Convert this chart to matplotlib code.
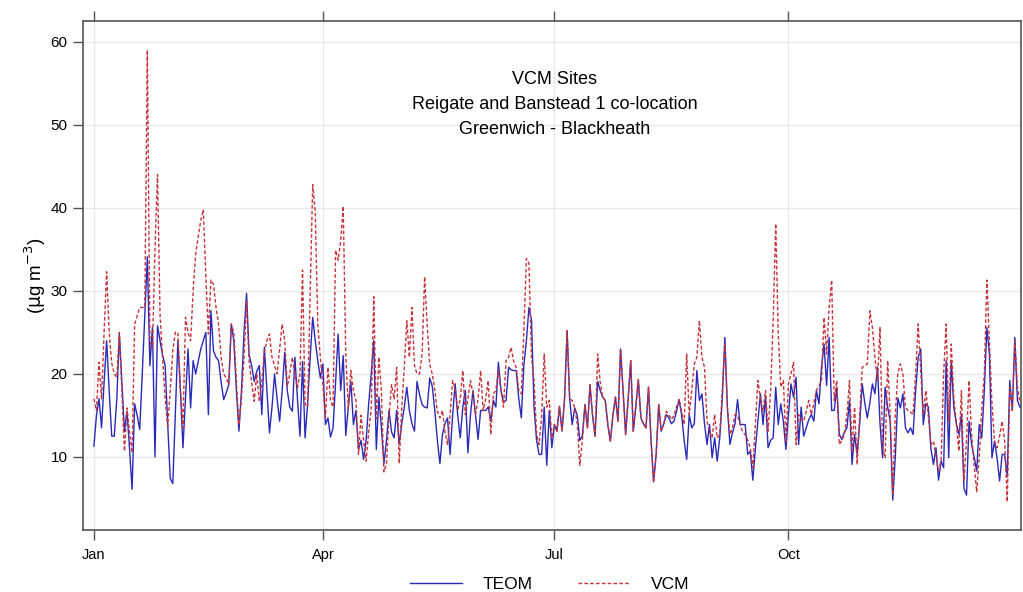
import numpy as np
import matplotlib
matplotlib.use("Agg")
import matplotlib.pyplot as plt

# ---- data (daily means, one year) ----
teom = [11.3, 15, 17, 13.5, 19, 24, 18, 12.5, 12.5, 17, 24.8, 19, 13.1, 15.5, 11, 6.1, 16.4, 15, 13.3, 20,
        27, 34.1, 21, 25.6, 10, 25.8, 24, 22.2, 21, 14, 7.4, 6.8, 15.1, 24, 18, 11.1, 17, 23, 15.9, 21.6,
        20, 21.5, 23, 24, 25, 15.1, 27.6, 22.8, 22, 21.6, 19, 16.9, 17.7, 18.7, 26, 24, 18, 13.1, 18, 25,
        29.7, 22.3, 21, 19.1, 20.3, 21, 15.1, 23.2, 18, 12.9, 16, 20, 17, 14.3, 18, 22.6, 18, 16, 15.5, 22,
        17, 12.5, 21.5, 12.3, 16.4, 22, 26.8, 24, 21.6, 19.5, 21.2, 13.9, 14.7, 12.4, 13.5, 19, 24.8, 18, 22.2, 12.6,
        16, 19.1, 13.9, 15.6, 10.9, 12, 9.7, 12, 16.4, 20, 24, 10.9, 17.2, 13.5, 9.2, 12, 15.6, 13, 12.3, 15.6,
        11.5, 14, 16, 18.4, 15.6, 14, 13.1, 19.1, 17.5, 16.3, 16, 15.9, 19.5, 18.5, 15.6, 12, 9.2, 12.7, 14, 14.7,
        10.3, 15, 18.8, 15, 12.3, 16, 18, 10.5, 15, 18, 15, 12.1, 15.6, 15.6, 15.6, 16, 14.3, 16.8, 16, 21.4,
        18, 16.6, 16.8, 20.8, 20.5, 20.4, 20.4, 17, 14.7, 21, 24, 28, 26.5, 16, 12, 10.3, 10.3, 16, 9, 15.6,
        11.1, 13.9, 13.1, 16.1, 13.1, 17, 25.2, 17, 13.9, 15.9, 15, 12, 12.5, 16.3, 13.5, 18.7, 15, 12.5, 19.1, 18,
        17.2, 16.8, 13.9, 11.9, 15, 17.2, 14.3, 23, 18, 12.7, 17, 21.6, 13.1, 16, 19.3, 14.7, 14, 13.5, 18.4, 12,
        7.0, 10.3, 16.3, 13.1, 14, 15.1, 14.7, 14, 14.3, 15.5, 16.9, 15.1, 12, 9.7, 15.1, 13.5, 14, 20.4, 16.8, 17.6,
        14, 11.5, 13.9, 9.9, 12.3, 9.5, 12.3, 17, 24.4, 16, 11.5, 12.9, 14, 16.9, 13.9, 13.9, 13.9, 10.3, 10.7, 7.2,
        11, 14.3, 17.6, 13.9, 17.2, 11.1, 12, 12.3, 18.4, 13.9, 16.4, 14.3, 10.9, 15, 18.8, 17.2, 19.6, 11.5, 16, 12.5,
        13.5, 14.5, 15.1, 14.3, 18, 16.4, 20.8, 23.6, 18.6, 24.4, 15.6, 15.6, 18.4, 12.7, 12.1, 13, 13.5, 16.8, 9.1, 12.7,
        10.3, 14, 18.8, 16.5, 14.7, 16.5, 18.8, 17.6, 20.8, 14, 9.9, 18.4, 16, 14.3, 4.8, 10, 17.1, 15.9, 17.6, 13.5,
        12.9, 13.5, 12.7, 18, 22, 23, 13.9, 16.4, 16, 11, 9.1, 11.1, 7.2, 9.5, 8.7, 21.6, 9.9, 21.6, 16, 14,
        12.7, 15.1, 6.2, 5.4, 14.3, 11.5, 10, 8.3, 13.9, 12.3, 18, 25.6, 22.4, 9.9, 11.9, 9.9, 7.1, 10.3, 10.3, 7.6,
        19.2, 15.6, 24.4, 16.8, 16]

vcm = [17, 15.6, 21.4, 17, 25, 32.3, 25, 21.3, 20, 19.6, 25, 18, 10.7, 15.9, 13, 10.5, 26, 27, 28, 28,
       28, 59, 24, 23, 35, 44, 27, 22, 17, 13.7, 18, 22.8, 25, 25, 18, 13.5, 26.8, 25, 24, 30,
       34.5, 36.5, 38.5, 39.8, 31.7, 24.8, 31.3, 30.8, 28, 26, 22, 20, 19.5, 18.7, 26, 25, 19, 13.9, 17, 22,
       28.8, 21.5, 19, 16.7, 20, 16.7, 19, 22.6, 24, 24.8, 22, 21, 20, 23, 26, 24, 18.5, 20, 22, 20,
       18.3, 20, 32.5, 16.4, 16, 29.7, 42.8, 39.5, 26, 22, 18.7, 14.7, 20.8, 16.8, 16, 34.9, 33.7, 36, 40.2, 22.2,
       15.8, 20.4, 18, 16.8, 10.3, 15, 12, 9.5, 13, 15.8, 29.3, 14.6, 22, 18, 8.2, 9.2, 15, 18.7, 17, 20.8,
       9.2, 16, 20.8, 26.4, 22, 28, 21, 20, 20, 22.4, 31.7, 25.9, 21.1, 20, 18, 15.5, 14.7, 15.6, 13, 11.5,
       15, 19.2, 18.2, 15.6, 17, 20.4, 15.1, 17, 19.2, 17.6, 15.1, 17, 20.4, 15.6, 17, 19.2, 12.7, 17.6, 18, 20.4,
       18, 16, 21.6, 22, 23.2, 21.5, 20.8, 18, 17.6, 25.2, 33.9, 33.3, 22, 19.2, 12.7, 11.5, 15, 22.4, 16, 16.8,
       12.3, 13.9, 13.1, 16.1, 13.1, 17, 25.2, 17, 16.8, 15.9, 14, 9, 12, 16.3, 13.5, 18.7, 15, 12.5, 22.4, 19,
       17.2, 16.8, 13.9, 11.9, 15, 17.2, 14.3, 23, 18, 12.7, 17, 21.6, 13.1, 16, 19.3, 14.7, 14, 13.5, 18.4, 12,
       7.0, 10.3, 16.3, 13.1, 14, 15.5, 15.1, 14.5, 15, 16, 16.9, 15.5, 13.9, 22.4, 15.1, 18, 21.2, 22, 26.4, 22,
       20.8, 14.3, 13, 12.3, 15.1, 12.3, 12.7, 18, 23.6, 16, 12.7, 13.5, 15.1, 15, 13.9, 13, 12.7, 12, 11.1, 8.7,
       14, 19.2, 17, 15.5, 18, 13.1, 18, 26.4, 38.1, 24.8, 18.4, 19.2, 11.9, 18.8, 20, 21.4, 11.5, 15.1, 14.5, 14.3,
       15.5, 16.8, 15.1, 16.5, 18, 18.5, 19.2, 26.8, 22.4, 28, 31.3, 16.8, 19.2, 11.5, 12, 12.7, 15.1, 19.2, 10.7, 16,
       9.1, 15, 20.8, 21, 21.2, 27.6, 25.6, 22, 19.2, 25.6, 11.1, 9.9, 21.6, 15.1, 5.4, 15.1, 20, 21.2, 20, 15.9,
       15.6, 15.4, 15.1, 20, 26, 20.4, 15.1, 18, 15, 11.5, 11.9, 10, 8.3, 9.5, 20, 26, 14.3, 23.6, 17.2, 14,
       10.7, 18, 7.1, 12, 19.2, 12.7, 9, 5.8, 10, 15.9, 20, 31.3, 24, 16.4, 11.9, 11.1, 12.5, 14.3, 11.9, 4.6,
       18.4, 15.6, 24, 18.4, 16.5]

start_date = "2009-01-01"
month_ticks = ["2009-01-01", "2009-04-01", "2009-07-01", "2009-10-01"]
month_labels = ["Jan", "Apr", "Jul", "Oct"]
y_ticks = [10, 20, 30, 40, 50, 60]
title_lines = ["VCM Sites", "Reigate and Banstead 1 co-location", "Greenwich - Blackheath"]
series_names = ["TEOM", "VCM"]

dates = np.datetime64(start_date) + np.arange(len(teom)).astype("timedelta64[D]")

plt.rcParams["font.family"] = ["Liberation Sans", "DejaVu Sans"]

fig = plt.figure(figsize=(10.23, 5.92), dpi=100)
ax = fig.add_axes([83 / 1023, 1 - 530 / 592, (1021 - 83) / 1023, (530 - 21) / 592])

ax.plot(dates, teom, color="#2a2ab8", lw=1.0, label=series_names[0], zorder=3)
ax.plot(dates, vcm, color="#c8323a", lw=1.0, ls=(0, (2.6, 1.6)), label=series_names[1], zorder=4)

t0 = np.datetime64(start_date)
ax.set_xlim(t0 - np.timedelta64(103, "h"), t0 + np.timedelta64(364 * 24 + 10, "h"))
ax.set_ylim(1.2, 62.5)

mt = [np.datetime64(m) for m in month_ticks]
ax.set_xticks(mt)
ax.set_xticklabels(month_labels)
ax.set_yticks(y_ticks)
ax.tick_params(axis="x", which="both", top=True, bottom=True, direction="out",
               length=7, width=1, color="#555555", labelsize=10.5, pad=6)
ax.tick_params(axis="y", direction="out", length=7, width=1, color="#555555",
               labelsize=11, pad=4, right=False)

ax.grid(True, color="#e8e8e8", lw=0.9, zorder=0)
ax.set_axisbelow(True)
for s in ax.spines.values():
    s.set_color("#555555")
    s.set_linewidth(1.2)

ax.set_ylabel(r"($\mathrm{\mu}$g m$^{-3}$)", fontsize=13.5)
ax.yaxis.set_label_coords(-0.037, 0.5)

ax.text(0.503, 0.885, title_lines[0], transform=ax.transAxes, ha="center", va="center", fontsize=13)
ax.text(0.503, 0.836, title_lines[1], transform=ax.transAxes, ha="center", va="center", fontsize=13)
ax.text(0.503, 0.787, title_lines[2], transform=ax.transAxes, ha="center", va="center", fontsize=13)

fig.legend(loc="center", bbox_to_anchor=(0.537, 0.013), ncol=2, frameon=False,
           fontsize=12.5, handlelength=3.0, columnspacing=2.6, handletextpad=1.2)

fig.savefig("out.png", dpi=100)
